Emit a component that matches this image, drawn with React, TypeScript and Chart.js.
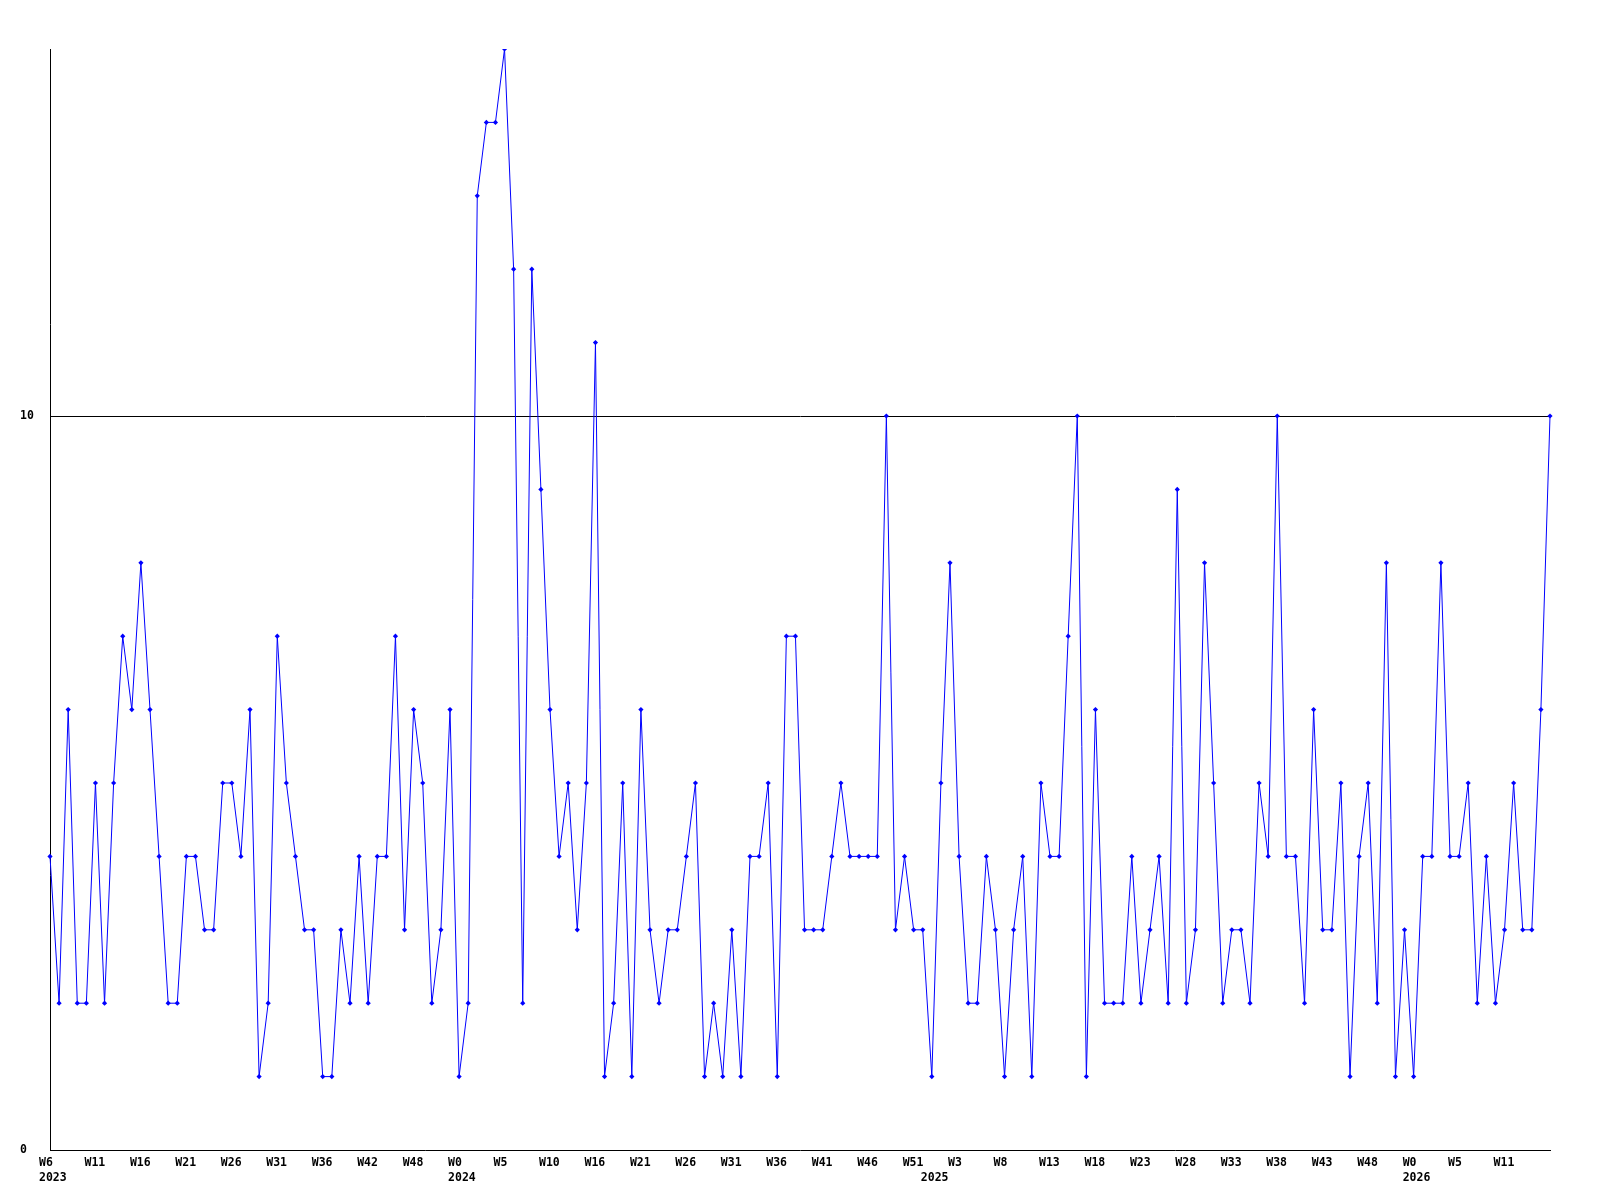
import React, { useEffect, useRef } from "react";
import { Chart, registerables } from "chart.js";

Chart.register(...registerables);

// Week categories, one per point (weekly series from 2023 to 2026)
const weeks: string[] = [
  // 2023
  "W6", "W7", "W8", "W9", "W10", "W11", "W12", "W13", "W14", "W15",
  "W16", "W17", "W18", "W19", "W20", "W21", "W22", "W23", "W24", "W25",
  "W26", "W27", "W28", "W29", "W30", "W31", "W32", "W33", "W34", "W35",
  "W36", "W37", "W38", "W39", "W40", "W42", "W43", "W44", "W45", "W46",
  "W48", "W49", "W50", "W51", "W52",
  // 2024
  "W0", "W1", "W2", "W3", "W4", "W5", "W6", "W7", "W8", "W9",
  "W10", "W11", "W12", "W13", "W14", "W16", "W17", "W18", "W19", "W20",
  "W21", "W22", "W23", "W24", "W25", "W26", "W27", "W28", "W29", "W30",
  "W31", "W32", "W33", "W34", "W35", "W36", "W37", "W38", "W39", "W40",
  "W41", "W42", "W43", "W44", "W45", "W46", "W47", "W48", "W49", "W50",
  "W51", "W52",
  // 2025
  "W0", "W1", "W2", "W3", "W4", "W5", "W6", "W7", "W8", "W9",
  "W10", "W11", "W12", "W13", "W14", "W15", "W16", "W17", "W18", "W19",
  "W20", "W21", "W22", "W23", "W24", "W25", "W26", "W27", "W28", "W29",
  "W30", "W31", "W32", "W33", "W34", "W35", "W36", "W37", "W38", "W39",
  "W40", "W41", "W42", "W43", "W44", "W45", "W46", "W47", "W48", "W49",
  "W50", "W51", "W52",
  // 2026
  "W0", "W1", "W2", "W3", "W4", "W5", "W6", "W7", "W8", "W9",
  "W11", "W12", "W13", "W14", "W15", "W16",
];

// Years, in order; a new year starts where the week number wraps round
const years: string[] = ["2023", "2024", "2025", "2026"];

// Weekly counts
const counts: number[] = [
  4, 2, 6, 2, 2, 5, 2, 5, 7, 6,
  8, 6, 4, 2, 2, 4, 4, 3, 3, 5,
  5, 4, 6, 1, 2, 7, 5, 4, 3, 3,
  1, 1, 3, 2, 4, 2, 4, 4, 7, 3,
  6, 5, 2, 3, 6, 1, 2, 13, 14, 14,
  15, 12, 2, 12, 9, 6, 4, 5, 3, 5,
  11, 1, 2, 5, 1, 6, 3, 2, 3, 3,
  4, 5, 1, 2, 1, 3, 1, 4, 4, 5,
  1, 7, 7, 3, 3, 3, 4, 5, 4, 4,
  4, 4, 10, 3, 4, 3, 3, 1, 5, 8,
  4, 2, 2, 4, 3, 1, 3, 4, 1, 5,
  4, 4, 7, 10, 1, 6, 2, 2, 2, 4,
  2, 3, 4, 2, 9, 2, 3, 8, 5, 2,
  3, 3, 2, 5, 4, 10, 4, 4, 2, 6,
  3, 3, 5, 1, 4, 5, 2, 8, 1, 3,
  1, 4, 4, 8, 4, 4, 5, 2, 4, 2,
  3, 5, 3, 3, 6, 10,
];

const yTicksShown: number[] = [0, 10];
const yMax = 15;
const labelEvery = 5;

function yearStartMap(): Record<number, string> {
  const map: Record<number, string> = {};
  let y = 0;
  map[0] = years[0];
  for (let i = 1; i < weeks.length; i++) {
    const prev = parseInt(weeks[i - 1].slice(1), 10);
    const cur = parseInt(weeks[i].slice(1), 10);
    if (cur < prev) {
      y++;
      map[i] = years[y];
    }
  }
  return map;
}

const FONT_FAMILY = "'DejaVu Sans Mono', 'Liberation Mono', monospace";

export default function App() {
  const ref = useRef<HTMLCanvasElement | null>(null);

  useEffect(() => {
    if (!ref.current) return;
    const yearAt = yearStartMap();
    const chart = new Chart(ref.current, {
      type: "line",
      data: {
        labels: weeks,
        datasets: [
          {
            data: counts,
            borderColor: "#0000ff",
            backgroundColor: "#0000ff",
            borderWidth: 1,
            tension: 0,
            fill: false,
            pointStyle: "rectRot",
            pointRadius: 2.6,
            pointBorderWidth: 0,
            pointBackgroundColor: "#0000ff",
          },
        ],
      },
      options: {
        animation: false,
        responsive: false,
        devicePixelRatio: 1,
        layout: { padding: { left: 20, right: 50, top: 49, bottom: 0 } },
        plugins: {
          legend: { display: false },
          tooltip: { enabled: false },
        },
        scales: {
          x: {
            type: "category",
            offset: false,
            grid: { display: false, drawTicks: false },
            border: { display: true, color: "#000000", width: 1 },
            ticks: {
              autoSkip: false,
              maxRotation: 0,
              minRotation: 0,
              align: "start",
              labelOffset: -11,
              padding: 6,
              color: "#000000",
              font: { family: FONT_FAMILY, size: 11.5, weight: "bold", lineHeight: 1.25 },
              callback: (_v: any, index: number) => {
                const showWeek =
                  index % labelEvery === 0 && index <= weeks.length - labelEvery;
                const yr = yearAt[index];
                if (yr) return [showWeek ? weeks[index] : "", yr];
                return showWeek ? weeks[index] : "";
              },
            },
            afterFit: (scale: any) => {
              scale.height = 50;
            },
          },
          y: {
            type: "linear",
            min: 0,
            max: yMax,
            grid: {
              drawTicks: false,
              color: (ctx: any) =>
                ctx.tick && ctx.tick.value === 10 ? "#000000" : "rgba(0,0,0,0)",
              lineWidth: 1,
            },
            border: { display: true, color: "#000000", width: 1 },
            ticks: {
              stepSize: 10,
              crossAlign: "far",
              padding: 0,
              color: "#000000",
              font: { family: FONT_FAMILY, size: 11.5, weight: "bold" },
              callback: (v: any) => (yTicksShown.includes(Number(v)) ? String(v) : ""),
            },
            afterFit: (scale: any) => {
              scale.width = 30;
            },
          },
        },
      },
    });
    return () => chart.destroy();
  }, []);

  return (
    <div style={{ position: "absolute", left: 0, top: 0, width: 1600, height: 1200, background: "#ffffff" }}>
      <canvas ref={ref} width={1600} height={1200} style={{ display: "block" }} />
    </div>
  );
}
